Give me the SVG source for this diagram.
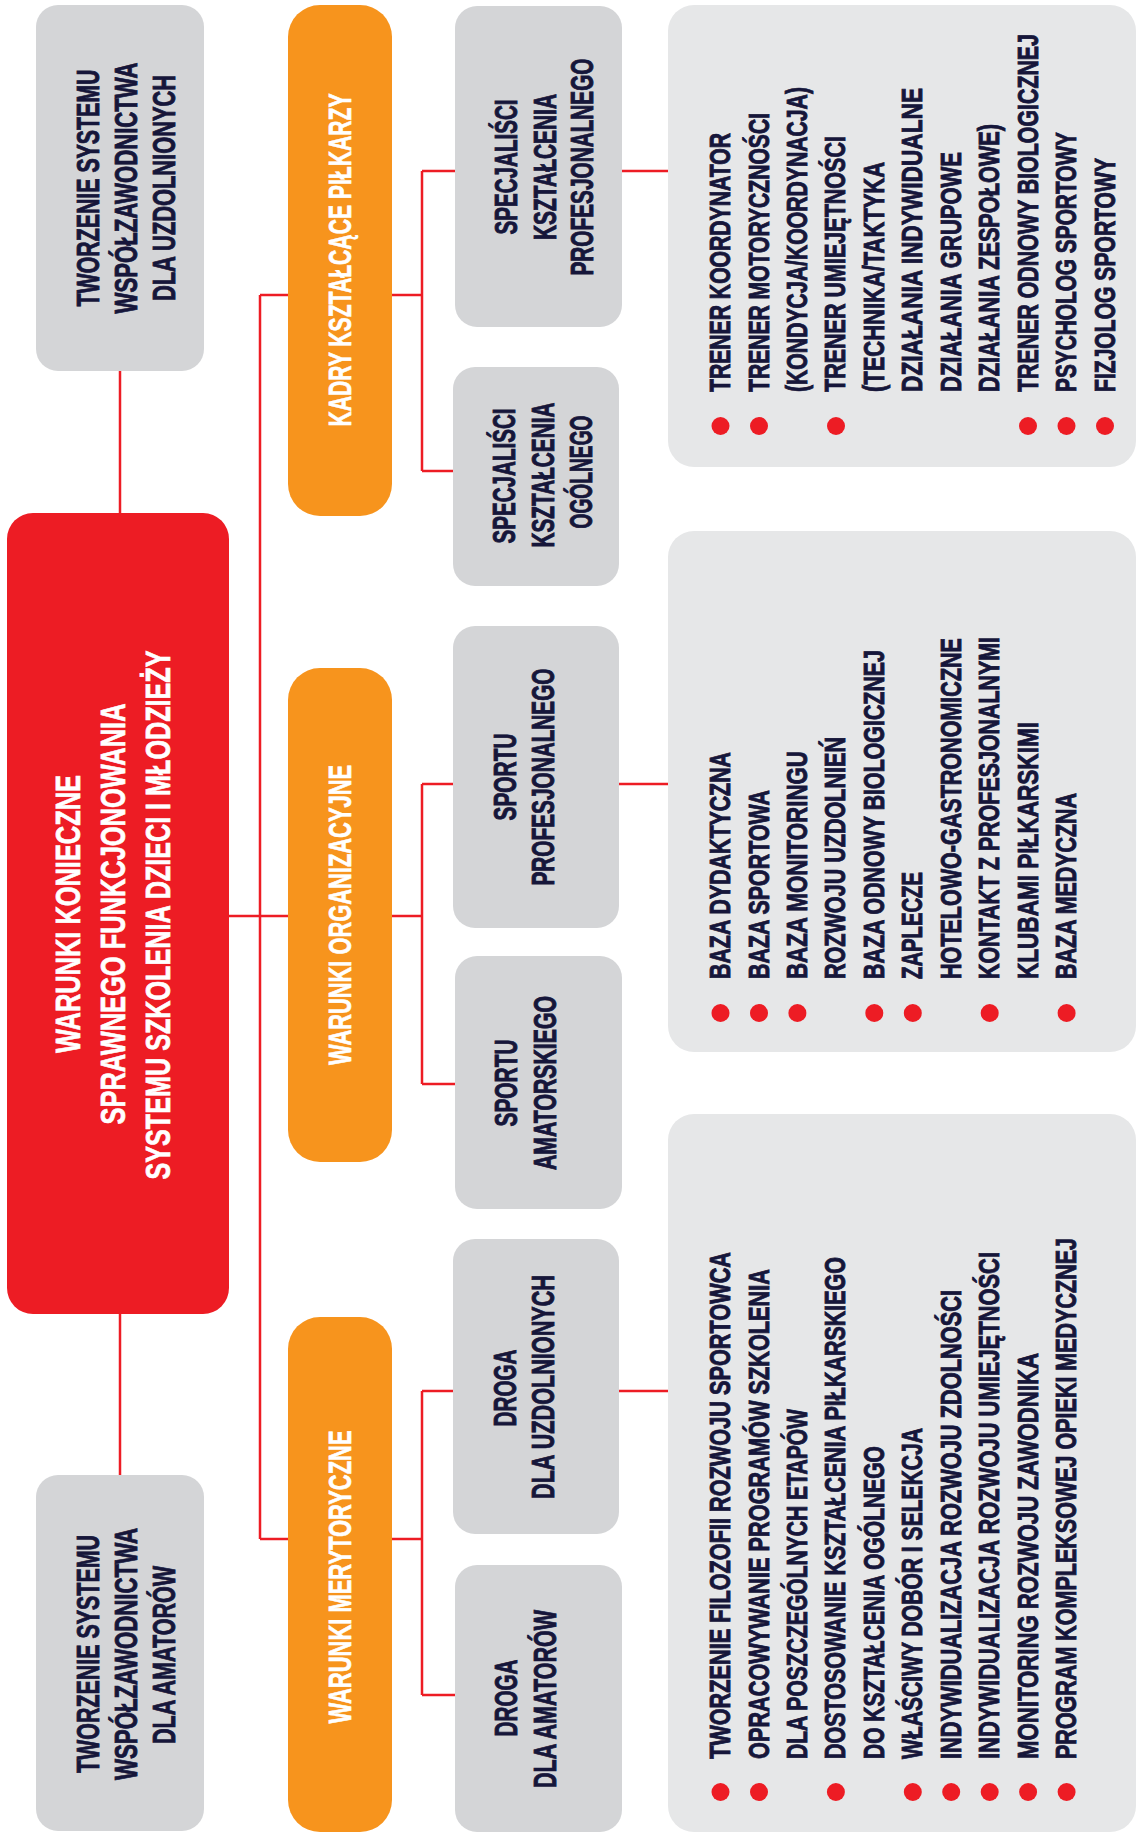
<svg xmlns="http://www.w3.org/2000/svg" width="1138" height="1834" viewBox="0 0 1138 1834">
<style>
text{font-family:"Liberation Sans",Arial,sans-serif;font-weight:bold}
.g{fill:#D4D5D7}
.p{fill:#E6E7E8}
.o{fill:#F7941D}
.r{fill:#ED1C24}
.dk{fill:#16163A;stroke:#16163A;stroke-width:0.9}
.wt{fill:#FFFFFF;stroke:#FFFFFF;stroke-width:0.7}
.li{font-size:29.5px;fill:#16163A;stroke:#16163A;stroke-width:0.9}
.nd{font-size:31px;fill:#16163A;stroke:#16163A;stroke-width:0.9;text-anchor:middle}
.big{font-size:32px;text-anchor:middle}
.bul{fill:#ED1C24}
#connectors line{stroke:#ED1C24;stroke-width:2.5;fill:none}
</style>
<rect width="1138" height="1834" fill="#FFFFFF"/>

<g id="connectors">
<line x1="120" y1="371" x2="120" y2="513"/>
<line x1="120" y1="1314" x2="120" y2="1475"/>
<line x1="229" y1="916" x2="288" y2="916"/>
<line x1="260" y1="295" x2="260" y2="1539"/>
<line x1="260" y1="295" x2="288" y2="295"/>
<line x1="260" y1="1539" x2="288" y2="1539"/>
<line x1="392" y1="295" x2="422" y2="295"/>
<line x1="422" y1="171" x2="422" y2="471"/>
<line x1="422" y1="171" x2="455" y2="171"/>
<line x1="422" y1="471" x2="453" y2="471"/>
<line x1="622" y1="171" x2="668" y2="171"/>
<line x1="392" y1="916" x2="422" y2="916"/>
<line x1="422" y1="784" x2="422" y2="1084"/>
<line x1="422" y1="784" x2="453" y2="784"/>
<line x1="422" y1="1084" x2="455" y2="1084"/>
<line x1="619" y1="784" x2="668" y2="784"/>
<line x1="392" y1="1539" x2="422" y2="1539"/>
<line x1="422" y1="1391" x2="422" y2="1695"/>
<line x1="422" y1="1391" x2="453" y2="1391"/>
<line x1="422" y1="1695" x2="455" y2="1695"/>
<line x1="619" y1="1391" x2="668" y2="1391"/>
</g>

<g id="node-uzdolnieni">
<rect class="g" x="36" y="5" width="168" height="366" rx="22"/>
<text class="big dk" transform="translate(99,188) rotate(-90) scale(0.7,1)" textLength="338.6" lengthAdjust="spacingAndGlyphs">TWORZENIE SYSTEMU</text>
<text class="big dk" transform="translate(137,188) rotate(-90) scale(0.7,1)" textLength="358.6" lengthAdjust="spacingAndGlyphs">WSPÓŁZAWODNICTWA</text>
<text class="big dk" transform="translate(175,188) rotate(-90) scale(0.7,1)" textLength="322.9" lengthAdjust="spacingAndGlyphs">DLA UZDOLNIONYCH</text>
</g>

<g id="node-main">
<rect class="r" x="7" y="513" width="222" height="801" rx="26"/>
<text class="wt" font-size="35" text-anchor="middle" transform="translate(80,914) rotate(-90) scale(0.7,1)" textLength="397.1" lengthAdjust="spacingAndGlyphs">WARUNKI KONIECZNE</text>
<text class="wt" font-size="35" text-anchor="middle" transform="translate(125,914) rotate(-90) scale(0.7,1)" textLength="601.4" lengthAdjust="spacingAndGlyphs">SPRAWNEGO FUNKCJONOWANIA</text>
<text class="wt" font-size="35" text-anchor="middle" transform="translate(170,915) rotate(-90) scale(0.7,1)" textLength="755.7" lengthAdjust="spacingAndGlyphs">SYSTEMU SZKOLENIA DZIECI I MŁODZIEŻY</text>
</g>

<g id="node-amatorzy">
<rect class="g" x="36" y="1475" width="168" height="356" rx="22"/>
<text class="big dk" transform="translate(99,1654) rotate(-90) scale(0.7,1)" textLength="340" lengthAdjust="spacingAndGlyphs">TWORZENIE SYSTEMU</text>
<text class="big dk" transform="translate(137,1654) rotate(-90) scale(0.7,1)" textLength="360" lengthAdjust="spacingAndGlyphs">WSPÓŁZAWODNICTWA</text>
<text class="big dk" transform="translate(175,1655) rotate(-90) scale(0.7,1)" textLength="254.3" lengthAdjust="spacingAndGlyphs">DLA AMATORÓW</text>
</g>

<g id="node-kadry">
<rect class="o" x="288" y="5" width="104" height="511" rx="32"/>
<text class="big wt" transform="translate(351,260) rotate(-90) scale(0.7,1)" textLength="475.7" lengthAdjust="spacingAndGlyphs">KADRY KSZTAŁCĄCE PIŁKARZY</text>
</g>

<g id="node-organizacyjne">
<rect class="o" x="288" y="668" width="104" height="494" rx="32"/>
<text class="big wt" transform="translate(351,915) rotate(-90) scale(0.7,1)" textLength="428.6" lengthAdjust="spacingAndGlyphs">WARUNKI ORGANIZACYJNE</text>
</g>

<g id="node-merytoryczne">
<rect class="o" x="288" y="1317" width="104" height="515" rx="32"/>
<text class="big wt" transform="translate(351,1577) rotate(-90) scale(0.7,1)" textLength="418.6" lengthAdjust="spacingAndGlyphs">WARUNKI MERYTORYCZNE</text>
</g>

<g id="node-spec-prof">
<rect class="g" x="455" y="6" width="167" height="321" rx="22"/>
<text class="nd" transform="translate(517,167) rotate(-90) scale(0.7,1)" textLength="192.9" lengthAdjust="spacingAndGlyphs">SPECJALIŚCI</text>
<text class="nd" transform="translate(556,167) rotate(-90) scale(0.7,1)" textLength="208.6" lengthAdjust="spacingAndGlyphs">KSZTAŁCENIA</text>
<text class="nd" transform="translate(593,167) rotate(-90) scale(0.7,1)" textLength="310" lengthAdjust="spacingAndGlyphs">PROFESJONALNEGO</text>
</g>

<g id="node-spec-ogol">
<rect class="g" x="453" y="367" width="166" height="219" rx="22"/>
<text class="nd" transform="translate(515,476) rotate(-90) scale(0.7,1)" textLength="192.9" lengthAdjust="spacingAndGlyphs">SPECJALIŚCI</text>
<text class="nd" transform="translate(554,475) rotate(-90) scale(0.7,1)" textLength="207.1" lengthAdjust="spacingAndGlyphs">KSZTAŁCENIA</text>
<text class="nd" transform="translate(592,472) rotate(-90) scale(0.7,1)" textLength="161.4" lengthAdjust="spacingAndGlyphs">OGÓLNEGO</text>
</g>

<g id="node-sport-prof">
<rect class="g" x="453" y="626" width="166" height="302" rx="22"/>
<text class="nd" transform="translate(516,777) rotate(-90) scale(0.7,1)" textLength="124.3" lengthAdjust="spacingAndGlyphs">SPORTU</text>
<text class="nd" transform="translate(554,777) rotate(-90) scale(0.7,1)" textLength="310" lengthAdjust="spacingAndGlyphs">PROFESJONALNEGO</text>
</g>

<g id="node-sport-amat">
<rect class="g" x="455" y="956" width="167" height="253" rx="22"/>
<text class="nd" transform="translate(517,1083) rotate(-90) scale(0.7,1)" textLength="124.3" lengthAdjust="spacingAndGlyphs">SPORTU</text>
<text class="nd" transform="translate(556,1083) rotate(-90) scale(0.7,1)" textLength="248.6" lengthAdjust="spacingAndGlyphs">AMATORSKIEGO</text>
</g>

<g id="node-droga-uzd">
<rect class="g" x="453" y="1239" width="166" height="295" rx="22"/>
<text class="nd" transform="translate(516,1388) rotate(-90) scale(0.7,1)" textLength="110" lengthAdjust="spacingAndGlyphs">DROGA</text>
<text class="nd" transform="translate(554,1387) rotate(-90) scale(0.7,1)" textLength="320" lengthAdjust="spacingAndGlyphs">DLA UZDOLNIONYCH</text>
</g>

<g id="node-droga-amat">
<rect class="g" x="455" y="1565" width="167" height="267" rx="22"/>
<text class="nd" transform="translate(517,1698) rotate(-90) scale(0.7,1)" textLength="110" lengthAdjust="spacingAndGlyphs">DROGA</text>
<text class="nd" transform="translate(556,1699) rotate(-90) scale(0.7,1)" textLength="254.3" lengthAdjust="spacingAndGlyphs">DLA AMATORÓW</text>
</g>

<g id="panel-kadry">
<rect class="p" x="668" y="5" width="468" height="462" rx="26"/>
<text class="li" transform="translate(730,392) rotate(-90) scale(0.7,1)" textLength="370" lengthAdjust="spacingAndGlyphs">TRENER KOORDYNATOR</text>
<text class="li" transform="translate(768.5,392) rotate(-90) scale(0.7,1)" textLength="398.6" lengthAdjust="spacingAndGlyphs">TRENER MOTORYCZNOŚCI</text>
<text class="li" transform="translate(806.9,392) rotate(-90) scale(0.7,1)" textLength="435.7" lengthAdjust="spacingAndGlyphs">(KONDYCJA/KOORDYNACJA)</text>
<text class="li" transform="translate(845.4,392) rotate(-90) scale(0.7,1)" textLength="365.7" lengthAdjust="spacingAndGlyphs">TRENER UMIEJĘTNOŚCI</text>
<text class="li" transform="translate(883.8,392) rotate(-90) scale(0.7,1)" textLength="328.6" lengthAdjust="spacingAndGlyphs">(TECHNIKA/TAKTYKA</text>
<text class="li" transform="translate(922.3,392) rotate(-90) scale(0.7,1)" textLength="434.3" lengthAdjust="spacingAndGlyphs">DZIAŁANIA INDYWIDUALNE</text>
<text class="li" transform="translate(960.7,392) rotate(-90) scale(0.7,1)" textLength="342.9" lengthAdjust="spacingAndGlyphs">DZIAŁANIA GRUPOWE</text>
<text class="li" transform="translate(999.2,392) rotate(-90) scale(0.7,1)" textLength="382.9" lengthAdjust="spacingAndGlyphs">DZIAŁANIA ZESPOŁOWE)</text>
<text class="li" transform="translate(1037.6,392) rotate(-90) scale(0.7,1)" textLength="511.4" lengthAdjust="spacingAndGlyphs">TRENER ODNOWY BIOLOGICZNEJ</text>
<text class="li" transform="translate(1076.1,392) rotate(-90) scale(0.7,1)" textLength="371.4" lengthAdjust="spacingAndGlyphs">PSYCHOLOG SPORTOWY</text>
<text class="li" transform="translate(1114.5,392) rotate(-90) scale(0.7,1)" textLength="334.3" lengthAdjust="spacingAndGlyphs">FIZJOLOG SPORTOWY</text>
<circle class="bul" cx="720.5" cy="426" r="9"/>
<circle class="bul" cx="759" cy="426" r="9"/>
<circle class="bul" cx="836" cy="426" r="9"/>
<circle class="bul" cx="1028" cy="426" r="9"/>
<circle class="bul" cx="1066.5" cy="426" r="9"/>
<circle class="bul" cx="1105" cy="426" r="9"/>
</g>

<g id="panel-organizacyjne">
<rect class="p" x="668" y="531" width="468" height="521" rx="26"/>
<text class="li" transform="translate(730,979) rotate(-90) scale(0.7,1)" textLength="324.3" lengthAdjust="spacingAndGlyphs">BAZA DYDAKTYCZNA</text>
<text class="li" transform="translate(768.5,979) rotate(-90) scale(0.7,1)" textLength="270" lengthAdjust="spacingAndGlyphs">BAZA SPORTOWA</text>
<text class="li" transform="translate(806.9,979) rotate(-90) scale(0.7,1)" textLength="325.7" lengthAdjust="spacingAndGlyphs">BAZA MONITORINGU</text>
<text class="li" transform="translate(845.4,979) rotate(-90) scale(0.7,1)" textLength="345.7" lengthAdjust="spacingAndGlyphs">ROZWOJU UZDOLNIEŃ</text>
<text class="li" transform="translate(883.8,979) rotate(-90) scale(0.7,1)" textLength="470" lengthAdjust="spacingAndGlyphs">BAZA ODNOWY BIOLOGICZNEJ</text>
<text class="li" transform="translate(922.3,979) rotate(-90) scale(0.7,1)" textLength="152.9" lengthAdjust="spacingAndGlyphs">ZAPLECZE</text>
<text class="li" transform="translate(960.7,979) rotate(-90) scale(0.7,1)" textLength="487.1" lengthAdjust="spacingAndGlyphs">HOTELOWO-GASTRONOMICZNE</text>
<text class="li" transform="translate(999.2,979) rotate(-90) scale(0.7,1)" textLength="488.6" lengthAdjust="spacingAndGlyphs">KONTAKT Z PROFESJONALNYMI</text>
<text class="li" transform="translate(1037.6,979) rotate(-90) scale(0.7,1)" textLength="367.1" lengthAdjust="spacingAndGlyphs">KLUBAMI PIŁKARSKIMI</text>
<text class="li" transform="translate(1076.1,979) rotate(-90) scale(0.7,1)" textLength="265.7" lengthAdjust="spacingAndGlyphs">BAZA MEDYCZNA</text>
<circle class="bul" cx="720.5" cy="1013" r="9"/>
<circle class="bul" cx="759" cy="1013" r="9"/>
<circle class="bul" cx="797.4" cy="1013" r="9"/>
<circle class="bul" cx="874.3" cy="1013" r="9"/>
<circle class="bul" cx="912.8" cy="1013" r="9"/>
<circle class="bul" cx="989.7" cy="1013" r="9"/>
<circle class="bul" cx="1066.6" cy="1013" r="9"/>
</g>

<g id="panel-merytoryczne">
<rect class="p" x="668" y="1114" width="468" height="718" rx="26"/>
<text class="li" transform="translate(730,1759) rotate(-90) scale(0.7,1)" textLength="724.3" lengthAdjust="spacingAndGlyphs">TWORZENIE FILOZOFII ROZWOJU SPORTOWCA</text>
<text class="li" transform="translate(768.5,1759) rotate(-90) scale(0.7,1)" textLength="700" lengthAdjust="spacingAndGlyphs">OPRACOWYWANIE PROGRAMÓW SZKOLENIA</text>
<text class="li" transform="translate(806.9,1759) rotate(-90) scale(0.7,1)" textLength="500" lengthAdjust="spacingAndGlyphs">DLA POSZCZEGÓLNYCH ETAPÓW</text>
<text class="li" transform="translate(845.4,1759) rotate(-90) scale(0.7,1)" textLength="717.1" lengthAdjust="spacingAndGlyphs">DOSTOSOWANIE KSZTAŁCENIA PIŁKARSKIEGO</text>
<text class="li" transform="translate(883.8,1759) rotate(-90) scale(0.7,1)" textLength="447.1" lengthAdjust="spacingAndGlyphs">DO KSZTAŁCENIA OGÓLNEGO</text>
<text class="li" transform="translate(922.3,1759) rotate(-90) scale(0.7,1)" textLength="472.9" lengthAdjust="spacingAndGlyphs">WŁAŚCIWY DOBÓR I SELEKCJA</text>
<text class="li" transform="translate(960.7,1759) rotate(-90) scale(0.7,1)" textLength="670" lengthAdjust="spacingAndGlyphs">INDYWIDUALIZACJA ROZWOJU ZDOLNOŚCI</text>
<text class="li" transform="translate(999.2,1759) rotate(-90) scale(0.7,1)" textLength="724.3" lengthAdjust="spacingAndGlyphs">INDYWIDUALIZACJA ROZWOJU UMIEJĘTNOŚCI</text>
<text class="li" transform="translate(1037.6,1759) rotate(-90) scale(0.7,1)" textLength="580" lengthAdjust="spacingAndGlyphs">MONITORING ROZWOJU ZAWODNIKA</text>
<text class="li" transform="translate(1076.1,1759) rotate(-90) scale(0.7,1)" textLength="744.3" lengthAdjust="spacingAndGlyphs">PROGRAM KOMPLEKSOWEJ OPIEKI MEDYCZNEJ</text>
<circle class="bul" cx="720.5" cy="1792" r="9"/>
<circle class="bul" cx="759" cy="1792" r="9"/>
<circle class="bul" cx="835.9" cy="1792" r="9"/>
<circle class="bul" cx="912.8" cy="1792" r="9"/>
<circle class="bul" cx="951.2" cy="1792" r="9"/>
<circle class="bul" cx="989.7" cy="1792" r="9"/>
<circle class="bul" cx="1028.1" cy="1792" r="9"/>
<circle class="bul" cx="1066.6" cy="1792" r="9"/>
</g>
</svg>
